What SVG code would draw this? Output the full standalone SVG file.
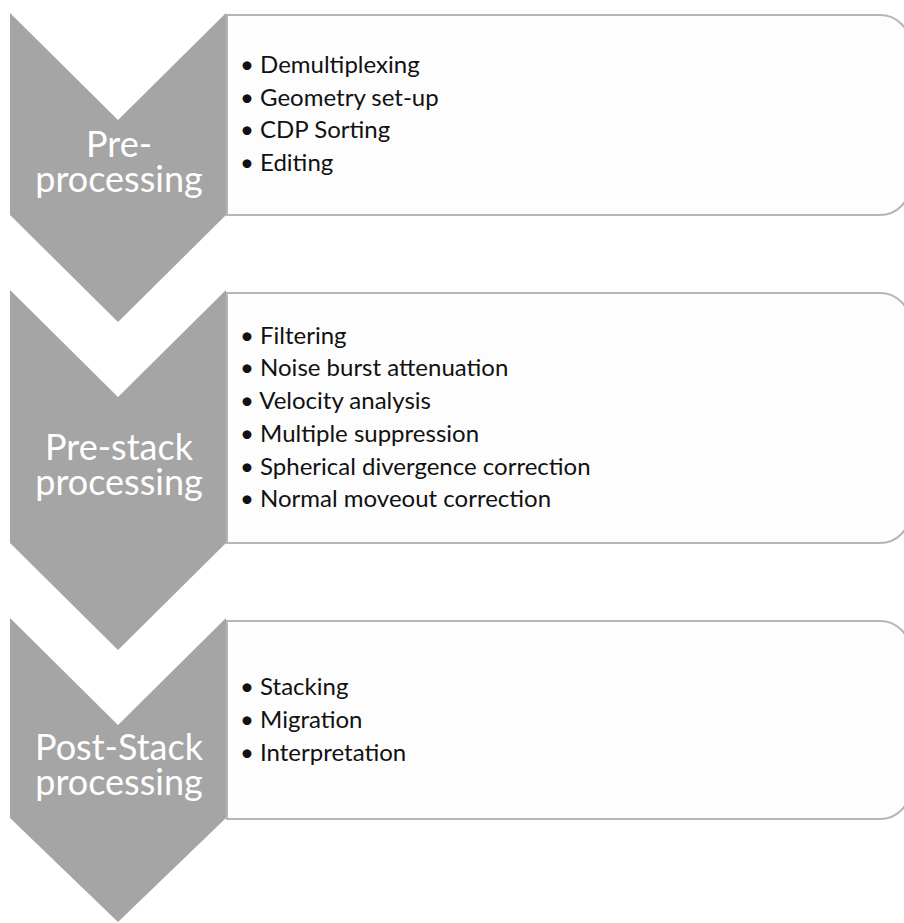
<svg xmlns="http://www.w3.org/2000/svg" width="904" height="923" viewBox="0 0 904 923">
<style>
.box{fill:#fdfdfd;stroke:#b5b5b5;stroke-width:2}
.chev{fill:#a5a5a5}
.lbl{font-family:Lato,"Open Sans",sans-serif;font-size:36px;fill:#ffffff;text-anchor:middle}
.item{font-family:Lato,"Open Sans",sans-serif;font-size:24px;fill:#111111}
</style>
<rect width="904" height="923" fill="#ffffff"/>
<g id="step1">
<path class="box" d="M227,15 H880 A30,30 0 0 1 910,45 V185 A30,30 0 0 1 880,215 H227 Z"/>
<polygon class="chev" points="10,13 118,120 226,13 226,215 118,322 10,215"/>
<text class="lbl" x="119" y="157">Pre-</text>
<text class="lbl" x="119" y="192">processing</text>
<g class="item">
<text x="240" y="73">• Demultiplexing</text>
<text x="240" y="106">• Geometry set-up</text>
<text x="240" y="138">• CDP Sorting</text>
<text x="240" y="171">• Editing</text>
</g>
</g>
<g id="step2">
<path class="box" d="M227,293 H880 A30,30 0 0 1 910,323 V513 A30,30 0 0 1 880,543 H227 Z"/>
<polygon class="chev" points="10,290 118,397 226,290 226,543 118,650 10,543"/>
<text class="lbl" x="119" y="460">Pre-stack</text>
<text class="lbl" x="119" y="495">processing</text>
<g class="item">
<text x="240" y="344">• Filtering</text>
<text x="240" y="376">• Noise burst attenuation</text>
<text x="240" y="409">• Velocity analysis</text>
<text x="240" y="442">• Multiple suppression</text>
<text x="240" y="475">• Spherical divergence correction</text>
<text x="240" y="507">• Normal moveout correction</text>
</g>
</g>
<g id="step3">
<path class="box" d="M227,621 H880 A30,30 0 0 1 910,651 V789 A30,30 0 0 1 880,819 H227 Z"/>
<polygon class="chev" points="10,618 118,725 226,618 226,818 118,922 10,818"/>
<text class="lbl" x="119" y="760">Post-Stack</text>
<text class="lbl" x="119" y="795">processing</text>
<g class="item">
<text x="240" y="695">• Stacking</text>
<text x="240" y="728">• Migration</text>
<text x="240" y="761">• Interpretation</text>
</g>
</g>
<g id="connectors"></g>
</svg>
